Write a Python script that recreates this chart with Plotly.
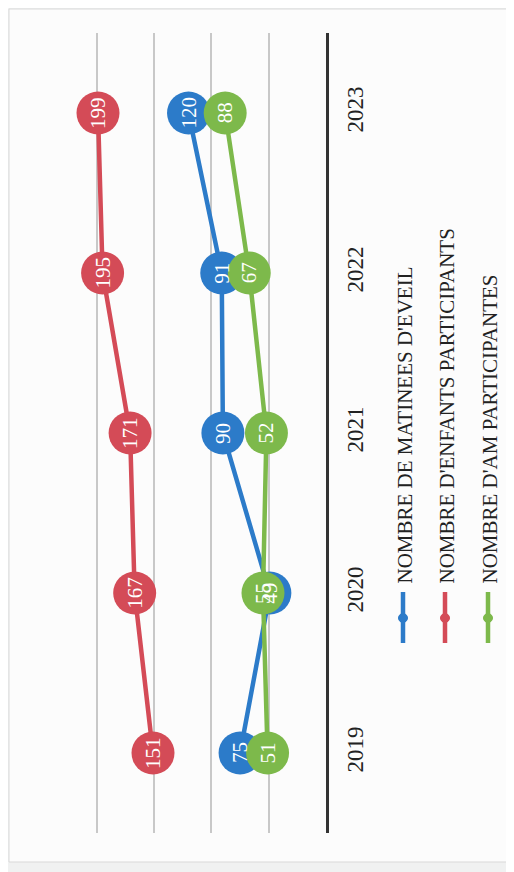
import plotly.graph_objects as go

years = [2019, 2020, 2021, 2022, 2023]
year_labels = ["2019", "2020", "2021", "2022", "2023"]
matinees = [75, 49, 90, 91, 120]
enfants = [151, 167, 171, 195, 199]
am = [51, 55, 52, 67, 88]
series_names = ["NOMBRE DE MATINEES D'EVEIL", "NOMBRE D'ENFANTS PARTICIPANTS", "NOMBRE D'AM PARTICIPANTES"]
colors = ["#2c7bc9", "#d44b57", "#7db94b"]
series = [matinees, enfants, am]

OFF = 8  # page body margin
W, H = 514 - OFF, 872 - OFF
L, R, T, B = 35 - OFF, 326 - OFF, 33 - OFF, 833 - OFF

def px(x):
    return (x - OFF - L) / (R - L)

def py(y):
    return (B - (y - OFF)) / (B - T)

fig = go.Figure()
for name, vals, col in zip(series_names, series, colors):
    fig.add_trace(go.Scatter(
        x=vals, y=years, mode="lines+markers", name=name,
        line=dict(color=col, width=4.5),
        marker=dict(size=43, color=col),
        showlegend=False, hoverinfo="skip"))

annotations = []
for vals in series:
    for v, yr in zip(vals, years):
        annotations.append(dict(
            x=v, y=yr, xref="x", yref="y", text=str(v), showarrow=False,
            textangle=-90, font=dict(family="Liberation Serif", size=21, color="white")))

shapes = [dict(type="rect", xref="paper", yref="paper",
               x0=px(9), x1=px(520), y0=py(862), y1=py(9),
               fillcolor="#fcfcfc", line=dict(color="#d9d9d9", width=1), layer="below")]

leg_x = [403, 445, 488]
for name, col, lx in zip(series_names, colors, leg_x):
    shapes.append(dict(type="line", xref="paper", yref="paper",
                       x0=px(lx), x1=px(lx), y0=py(592), y1=py(643),
                       line=dict(color=col, width=4.5)))
    shapes.append(dict(type="circle", xref="paper", yref="paper",
                       x0=px(lx - 4.5), x1=px(lx + 4.5), y0=py(622.5), y1=py(613.5),
                       fillcolor=col, line=dict(color=col, width=1)))
    annotations.append(dict(
        x=px(lx + 2), y=py(586), xref="paper", yref="paper", text=name, showarrow=False,
        textangle=-90, xanchor="center", yanchor="bottom",
        font=dict(family="Liberation Serif", size=21, color="#222222")))

fig.update_layout(
    width=W, height=H,
    margin=dict(l=L, r=W - R, t=T, b=H - B, pad=0),
    paper_bgcolor="#f0f1f1", plot_bgcolor="rgba(0,0,0,0)",
    shapes=shapes, annotations=annotations,
    xaxis=dict(range=[254, 0], tickvals=[50, 100, 150, 200], showticklabels=False,
               showgrid=True, gridcolor="#c8c8c8", gridwidth=1.5, zeroline=False,
               showline=False, ticks=""),
    yaxis=dict(range=[2018.5, 2023.5], tickvals=years, ticktext=year_labels, side="right",
               tickangle=-90, showgrid=False, zeroline=False, showline=True,
               linecolor="#333333", linewidth=3, ticks="", ticklabelstandoff=6,
               tickfont=dict(family="Liberation Serif", size=23, color="#222222")),
)

fig.write_html("out.html")
